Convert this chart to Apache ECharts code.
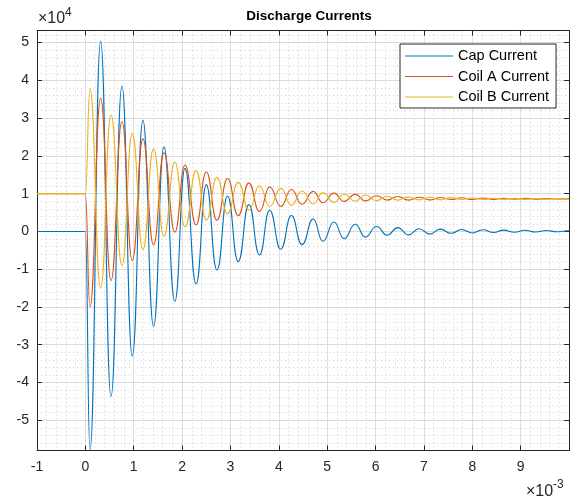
<!DOCTYPE html>
<html>
<head>
<meta charset="utf-8">
<script src="https://cdn.jsdelivr.net/npm/echarts@6/dist/echarts.min.js"></script>
<style>
  html, body { margin: 0; padding: 0; background: #fff; }
  #chart { width: 572px; height: 504px; }
</style>
</head>
<body>
<div id="chart"></div>
<script>
// time in ms (axis shows x10^-3 s), currents in units of 10^4 A
// points are the turning points of each waveform
const times = [-1, 0,
  0.095, 0.316, 0.53, 0.757, 0.97, 1.19, 1.41, 1.625, 1.85, 2.06,
  2.29, 2.50, 2.72, 2.94, 3.16, 3.38, 3.60, 3.81, 4.04, 4.26,
  4.48, 4.71, 4.91, 5.14, 5.35, 5.58, 5.79, 6.02, 6.24, 6.46,
  6.68, 6.90, 7.12, 7.34, 7.56, 7.78, 8.00, 8.22, 8.44, 8.65,
  8.87, 9.09, 9.31, 9.53, 9.75, 9.97, 10];

const capCurrent = [0, 0,
  -5.8, 5.04, -4.37, 3.85, -3.30, 2.94, -2.51, 2.24, -1.85, 1.67,
  -1.39, 1.24, -1.02, 0.94, -0.80, 0.71, -0.62, 0.56, -0.47, 0.42,
  -0.35, 0.33, -0.26, 0.25, -0.19, 0.19, -0.15, 0.13, -0.10, 0.10,
  -0.09, 0.07, -0.07, 0.06, -0.05, 0.05, -0.04, 0.045, -0.03, 0.035,
  -0.02, 0.03, -0.015, 0.025, -0.01, 0.02, 0.015];

const coilACurrent = [1, 1,
  -2.00, 3.53, -1.30, 2.91, -0.77, 2.45, -0.36, 2.08, -0.02, 1.76,
  0.17, 1.58, 0.30, 1.40, 0.42, 1.28, 0.53, 1.18, 0.66, 1.11,
  0.72, 1.06, 0.76, 1.015, 0.795, 0.98, 0.81, 0.945, 0.83, 0.925,
  0.83, 0.905, 0.835, 0.90, 0.845, 0.89, 0.845, 0.885, 0.85, 0.88,
  0.855, 0.875, 0.855, 0.87, 0.857, 0.865, 0.862];

const coilBCurrent = [1, 1,
  3.78, -1.50, 3.09, -0.90, 2.59, -0.48, 2.19, -0.13, 1.84, 0.12,
  1.61, 0.30, 1.43, 0.47, 1.30, 0.57, 1.21, 0.66, 1.14, 0.69,
  1.07, 0.73, 1.02, 0.77, 0.985, 0.80, 0.965, 0.815, 0.93, 0.83,
  0.915, 0.835, 0.905, 0.84, 0.895, 0.845, 0.885, 0.845, 0.88, 0.85,
  0.875, 0.85, 0.87, 0.855, 0.865, 0.855, 0.858];

const seriesNames = ['Cap Current', 'Coil A Current', 'Coil B Current'];
const seriesColors = ['#0072BD', '#D95319', '#EDB120'];
const yTicks = [-5, -4, -3, -2, -1, 0, 1, 2, 3, 4, 5];

const chart = echarts.init(document.getElementById('chart'), null, { renderer: 'canvas' });

const axisColor = '#262626';
const font = 'Liberation Sans, Arial, Helvetica, sans-serif';

function pairs(vals) {
  return times.map((t, i) => [t, vals[i]]);
}

const allValues = [capCurrent, coilACurrent, coilBCurrent];

const option = {
  animation: false,
  backgroundColor: '#fff',
  title: {
    text: 'Discharge Currents',
    left: 309,
    textAlign: 'center',
    top: 9,
    padding: 0,
    textStyle: { fontSize: 13.5, fontWeight: 'bold', color: '#000', fontFamily: font }
  },
  legend: {
    orient: 'vertical',
    left: 400,
    top: 44,
    padding: [4, 7, 3, 5],
    itemWidth: 48,
    itemHeight: 1,
    itemGap: 4.5,
    itemStyle: { borderWidth: 0 },
    icon: 'rect',
    backgroundColor: '#fff',
    borderColor: '#262626',
    borderWidth: 1,
    borderRadius: 0,
    textStyle: { fontSize: 14.5, color: '#000', fontFamily: font, lineHeight: 16 },
    data: seriesNames
  },
  grid: {
    left: 37, right: 3, top: 30.5, bottom: 53.5,
    containLabel: false, outerBoundsMode: 'none'
  },
  xAxis: [{
    type: 'value', min: -1, max: 10, interval: 1,
    axisLine: { show: true, onZero: false, lineStyle: { color: axisColor, width: 1 } },
    axisTick: { show: true, inside: true, length: 5, lineStyle: { color: axisColor } },
    axisLabel: { color: axisColor, fontSize: 14, margin: 10, showMaxLabel: false, fontFamily: font },
    splitLine: { show: true, lineStyle: { color: '#dedede', width: 1 } },
    minorTick: { show: false, splitNumber: 5 },
    minorSplitLine: { show: true, lineStyle: { color: '#d0d0d0', width: 1, type: [1, 3] } }
  }, {
    type: 'value', position: 'top', min: -1, max: 10, interval: 1,
    axisLine: { show: true, onZero: false, lineStyle: { color: axisColor, width: 1 } },
    axisTick: { show: true, inside: true, length: 5, lineStyle: { color: axisColor } },
    axisLabel: { show: false },
    splitLine: { show: false }
  }],
  yAxis: [{
    type: 'value', min: -5.8, max: 5.32, interval: 0.2,
    axisLine: { show: true, onZero: false, lineStyle: { color: axisColor, width: 1 } },
    axisTick: { show: true, inside: true, length: 5, customValues: yTicks, lineStyle: { color: axisColor } },
    axisLabel: { color: axisColor, fontSize: 14, margin: 8, customValues: yTicks, fontFamily: font },
    splitLine: { show: true, lineStyle: { color: '#dedede', width: 1 } }
  }, {
    type: 'value', position: 'right', min: -5.8, max: 5.32, interval: 0.2,
    axisLine: { show: true, onZero: false, lineStyle: { color: axisColor, width: 1 } },
    axisTick: { show: true, inside: true, length: 5, customValues: yTicks, lineStyle: { color: axisColor } },
    axisLabel: { show: false },
    splitLine: { show: false }
  }, {
    // minor grid rows, every 0.2
    type: 'value', position: 'left', min: -5.8, max: 5.32, interval: 0.2,
    axisLine: { show: false }, axisTick: { show: false }, axisLabel: { show: false },
    splitLine: { show: true, lineStyle: { color: '#d0d0d0', width: 1, type: [1, 3] } }
  }],
  graphic: [
    { type: 'text', left: 38, top: 11, style: { text: '×10', fontSize: 16, fill: axisColor, fontFamily: font } },
    { type: 'text', left: 65, top: 7, style: { text: '4', fontSize: 12, fill: axisColor, fontFamily: font } },
    { type: 'text', left: 526, top: 484, style: { text: '×10', fontSize: 16, fill: axisColor, fontFamily: font } },
    { type: 'text', left: 553, top: 479, style: { text: '-3', fontSize: 12, fill: axisColor, fontFamily: font } }
  ],
  series: seriesNames.map((name, i) => ({
    name: name,
    type: 'line',
    data: pairs(allValues[i]),
    xAxisIndex: 0,
    yAxisIndex: 0,
    showSymbol: false,
    symbol: 'none',
    smooth: 0.5,
    smoothMonotone: 'x',
    color: seriesColors[i],
    lineStyle: { width: 1.1, color: seriesColors[i] },
    clip: true
  }))
};

chart.setOption(option);
</script>
</body>
</html>
